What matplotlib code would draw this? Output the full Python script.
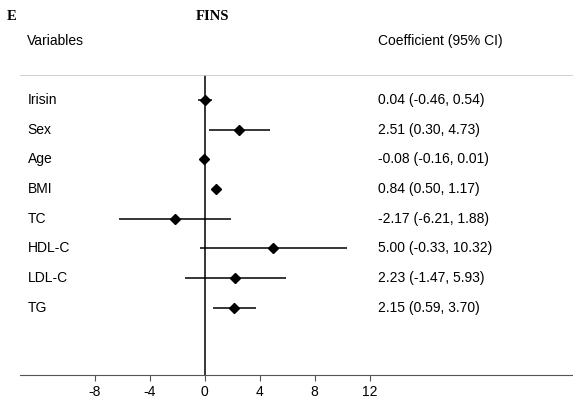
import matplotlib.pyplot as plt

variables = ['Irisin', 'Sex', 'Age', 'BMI', 'TC', 'HDL-C', 'LDL-C', 'TG']
coef = [0.04, 2.51, -0.08, 0.84, -2.17, 5.00, 2.23, 2.15]
lower = [-0.46, 0.30, -0.16, 0.50, -6.21, -0.33, -1.47, 0.59]
upper = [0.54, 4.73, 0.01, 1.17, 1.88, 10.32, 5.93, 3.70]
ticks = [-8, -4, 0, 4, 8, 12]

plt.rcParams['font.family'] = ['Liberation Sans', 'DejaVu Sans']

fig = plt.figure(figsize=(5.73, 3.98), dpi=100)
ax = fig.add_axes([0.0349, 0.0578, 0.9651, 0.7538])

rows = list(range(len(variables)))
ax.hlines(rows, lower, upper, color='black', lw=1.1)
ax.plot(coef, rows, 'D', color='black', ms=5.5)
ax.axvline(0, color='black', lw=1.1)

ax.set_xlim(-13.45, 26.8)
ax.set_ylim(9.26, -0.84)

for i, v in enumerate(variables):
    ax.text(-12.9, i, v, ha='left', va='center', fontsize=10)
    ax.text(12.6, i, f'{coef[i]:.2f} ({lower[i]:.2f}, {upper[i]:.2f})',
            ha='left', va='center', fontsize=10)

for s in ['left', 'right', 'top']:
    ax.spines[s].set_visible(False)
ax.spines['bottom'].set_color('#555555')
ax.axhline(-0.84, color='#c8c8c8', lw=1.2)
ax.set_yticks([])
ax.set_xticks(ticks)
ax.set_xticklabels([str(t) for t in ticks], fontsize=10)
ax.tick_params(axis='x', length=4, color='#555555', pad=3)

fig.text(27 / 573, 1 - 41 / 398, 'Variables', ha='left', va='center', fontsize=10)
fig.text(378 / 573, 1 - 41 / 398, 'Coefficient (95% CI)', ha='left', va='center', fontsize=10)
fig.text(212 / 573, 1 - 17 / 398, 'FINS', ha='center', va='center', fontsize=10.5,
         fontweight='bold', family='Liberation Serif')
fig.text(12 / 573, 1 - 17 / 398, 'E', ha='center', va='center', fontsize=10.5,
         fontweight='bold', family='Liberation Serif')

fig.savefig('out.png', dpi=100)
